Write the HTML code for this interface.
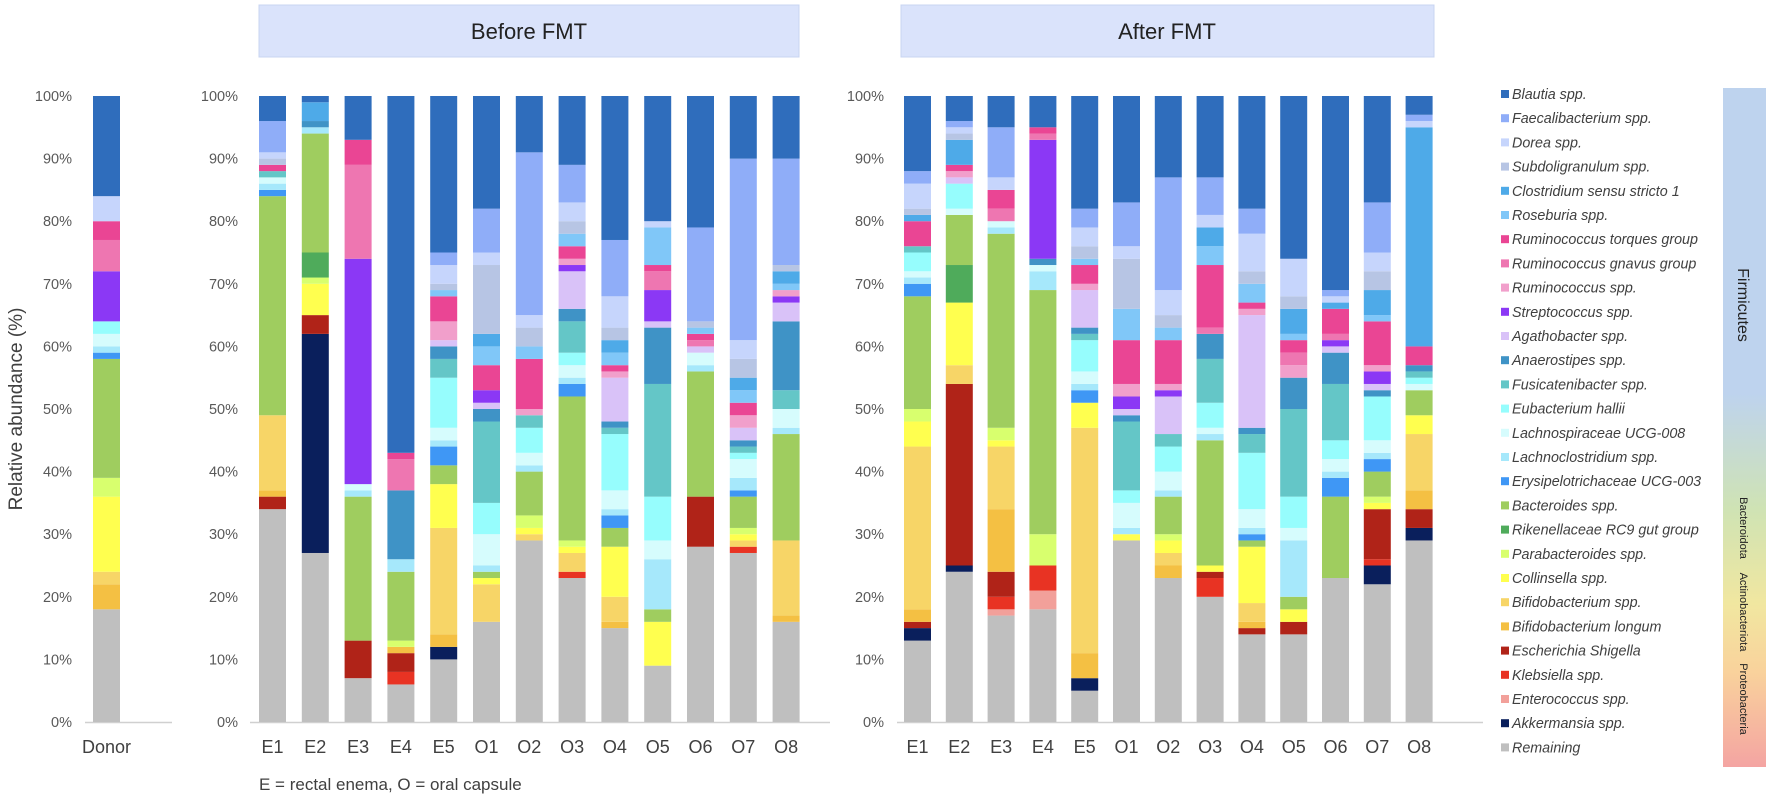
<!DOCTYPE html>
<html><head><meta charset="utf-8"><style>
body{margin:0;background:#fff;}
svg{display:block;font-family:"Liberation Sans",Arial,sans-serif;}
.tick{font-size:14.5px;fill:#595959;}
.xl{font-size:18px;fill:#404040;}
.lg{font-size:14.3px;fill:#404040;font-style:italic;}
</style></head><body>
<svg id="chart" width="1772" height="800" viewBox="0 0 1772 800" xmlns="http://www.w3.org/2000/svg">
<defs>
<linearGradient id="phy" x1="0" y1="0" x2="0" y2="1">
<stop offset="0" stop-color="#bed3ee"/><stop offset="0.45" stop-color="#bed3ee"/>
<stop offset="0.62" stop-color="#cfe3b4"/><stop offset="0.76" stop-color="#f1e7a0"/>
<stop offset="0.86" stop-color="#f9d29c"/><stop offset="1" stop-color="#f4a4a2"/>
</linearGradient>
</defs>
<rect x="259" y="5" width="540" height="52" fill="#dae3fb" stroke="#c8d5f2"/>
<text x="529" y="39" text-anchor="middle" font-size="22" fill="#222">Before FMT</text>
<rect x="901" y="5" width="533" height="52" fill="#dae3fb" stroke="#c8d5f2"/>
<text x="1167" y="39" text-anchor="middle" font-size="22" fill="#222">After FMT</text>
<text transform="translate(22,409) rotate(-90)" text-anchor="middle" font-size="19" fill="#404040">Relative abundance (%)</text>
<text x="259" y="790" font-size="17" fill="#404040">E = rectal enema, O = oral capsule</text>
<g id="plots"></g>
<g id="legend"></g>
<rect x="1723" y="88" width="43" height="679" fill="url(#phy)"/>
<text transform="translate(1738,305) rotate(90)" text-anchor="middle" font-size="16" fill="#222">Firmicutes</text>
<text transform="translate(1740,528) rotate(90)" text-anchor="middle" font-size="11" fill="#222">Bacteroidota</text>
<text transform="translate(1740,612) rotate(90)" text-anchor="middle" font-size="11" fill="#222">Actinobacteriota</text>
<text transform="translate(1740,699) rotate(90)" text-anchor="middle" font-size="11" fill="#222">Proteobacteria</text>
</svg>
<script>
// species in stacking order (bottom -> top)
const speciesNames = ["Remaining","Akkermansia spp.","Enterococcus spp.","Klebsiella spp.","Escherichia Shigella","Bifidobacterium longum","Bifidobacterium spp.","Collinsella spp.","Parabacteroides spp.","Rikenellaceae RC9 gut group","Bacteroides spp.","Erysipelotrichaceae UCG-003","Lachnoclostridium spp.","Lachnospiraceae UCG-008","Eubacterium hallii","Fusicatenibacter spp.","Anaerostipes spp.","Agathobacter spp.","Streptococcus spp.","Ruminococcus spp.","Ruminococcus gnavus group","Ruminococcus torques group","Roseburia spp.","Clostridium sensu stricto 1","Subdoligranulum  spp.","Dorea spp.","Faecalibacterium spp.","Blautia spp."];
const speciesColors = ["#bfbfbf","#0a1f5c","#f2a09a","#e83323","#b02318","#f4c043","#f7d567","#ffff4f","#d8ff6e","#4fab5b","#9fcd5f","#3f97f5","#a6e8fb","#d6fcfd","#96fdfd","#64c6c7","#3f93c6","#d9c2f8","#8b38f5","#f19fcb","#ee76b1","#ea4594","#80c7f8","#4eaae8","#b7c5e4","#c6d5fc","#8fadf8","#2f6dbc"];
const yTicks = ["0%","10%","20%","30%","40%","50%","60%","70%","80%","90%","100%"];
const donorLabels = ["Donor"];
const sampleLabels = ["E1","E2","E3","E4","E5","O1","O2","O3","O4","O5","O6","O7","O8"];
const donorData = [[18,0,0,0,0,4,2,12,3,0,19,1,1,2,2,0,0,0,8,0,5,3,0,0,0,4,0,16]];
const beforeData = [
[34,0,0,0,2,1,12,0,0,0,35,1,1,1,0,1,0,0,0,0,0,1,0,0,1,1,5,4],
[27,35,0,0,3,0,0,5,1,4,19,0,1,0,0,0,1,0,0,0,0,0,0,3,0,0,0,1],
[7,0,0,0,6,0,0,0,0,0,23,0,1,1,0,0,0,0,36,0,15,4,0,0,0,0,0,7],
[6,0,0,2,3,1,0,0,1,0,11,0,2,0,0,0,11,0,0,0,5,1,0,0,0,0,0,57],
[10,2,0,0,0,2,17,7,0,0,3,3,1,2,8,3,2,1,0,3,0,4,1,0,1,3,2,25],
[16,0,0,0,0,0,6,1,0,0,1,0,1,5,5,13,2,1,2,0,0,4,3,2,11,2,7,18],
[29,0,0,0,0,0,1,1,2,0,7,0,1,2,4,2,0,0,0,1,0,8,2,0,3,2,26,9],
[23,0,0,1,0,0,3,1,1,0,23,2,1,2,2,5,2,6,1,1,0,2,2,0,2,3,6,11],
[15,0,0,0,0,1,4,8,0,0,3,2,1,3,9,1,1,7,0,1,0,1,2,2,2,5,9,23],
[9,0,0,0,0,0,0,7,0,0,2,0,8,3,7,18,9,1,5,0,3,1,6,0,0,1,0,20],
[28,0,0,0,8,0,0,0,0,0,20,0,1,2,0,0,0,1,0,0,1,1,1,0,1,0,15,21],
[27,0,0,1,0,0,1,1,1,0,5,1,2,3,1,1,1,2,0,2,0,2,2,2,3,3,29,10],
[16,0,0,0,0,1,12,0,0,0,17,0,1,3,0,3,11,3,1,1,0,0,1,2,1,0,17,10]];
const afterData = [
[13,2,0,0,1,2,26,4,2,0,18,2,1,1,3,1,0,0,0,0,0,4,0,1,1,4,2,12],
[24,1,0,0,29,0,3,10,0,6,8,0,0,1,4,0,0,1,0,1,0,1,0,4,1,1,1,4],
[17,0,1,2,4,10,10,1,2,0,31,0,1,1,0,0,0,0,0,0,2,3,0,0,0,2,8,5],
[18,0,3,4,0,0,0,0,5,0,39,0,3,1,0,0,1,0,19,0,1,1,0,0,0,0,0,5],
[5,2,0,0,0,4,36,4,0,0,0,2,1,2,5,1,1,6,0,1,0,3,1,0,2,3,3,18],
[29,0,0,0,0,0,0,1,0,0,0,0,1,4,2,11,1,1,2,2,0,7,5,0,8,2,7,17],
[23,0,0,0,0,2,2,2,1,0,6,0,1,3,4,2,0,6,1,1,0,7,2,0,2,4,18,13],
[20,0,0,3,1,0,0,1,0,0,20,0,1,1,4,7,4,0,0,0,1,10,3,3,0,2,6,13],
[14,0,0,0,1,1,3,9,0,0,1,1,1,3,9,3,1,18,0,1,0,1,3,0,2,6,4,18],
[14,0,0,0,2,0,0,2,0,0,2,0,9,2,5,14,5,0,0,2,2,2,1,4,2,6,0,26],
[23,0,0,0,0,0,0,0,0,0,13,3,1,2,3,9,5,1,1,0,1,4,0,1,0,1,1,31],
[22,3,0,1,8,0,0,1,1,0,4,2,1,2,7,0,1,1,2,1,0,7,1,4,3,3,8,17],
[29,2,0,0,3,3,9,3,0,0,4,0,0,1,1,1,1,0,0,0,0,3,0,35,0,1,1,3]];

const NS='http://www.w3.org/2000/svg';
const Y0=722, Y100=96;
function yScale(v){return Y0-(Y0-Y100)*v/100;}
function mk(tag,attrs,parent){const e=document.createElementNS(NS,tag);for(const k in attrs)e.setAttribute(k,attrs[k]);parent.appendChild(e);return e;}
const plots=document.getElementById('plots');
function panel(name,data,labels,x0,step,bw,tickRight,axisL,axisR){
  const g=mk('g',{},plots);
  
  
  yTicks.forEach((t,i)=>{
    const tx=mk('text',{x:tickRight,y:yScale(i*10)+5,'text-anchor':'end','class':'tick'},g);
    tx.textContent=t;
    
    
  });
  const ax=mk('line',{x1:axisL,x2:axisR,y1:Y0+0.5,y2:Y0+0.5,stroke:'#d0d0d0','stroke-width':1.5},g);
  
  
  data.forEach((vals,b)=>{
    const x=x0+b*step;
    let cum=0;
    vals.forEach((v,s)=>{
      if(v<=0)return;
      const yt=yScale(cum+v), yb=yScale(cum);
      const r=mk('rect',{x:x,y:yt,width:bw,height:yb-yt,fill:speciesColors[s]},g);
      
      
      cum+=v;
    });
    const lb=mk('text',{x:x+bw/2,y:753,'text-anchor':'middle','class':'xl'},g);
    lb.textContent=labels[b];
    
    
  });
}
panel('donor',donorData,donorLabels,93,40,27,72,85,172);
panel('before',beforeData,sampleLabels,259,42.8,27,238,250,830);
panel('after',afterData,sampleLabels,904,41.8,27,884,897,1483);

const lg=document.getElementById('legend');
for(let i=0;i<speciesNames.length;i++){
  const s=speciesNames.length-1-i;
  const y=94+i*24.2;
  const sq=mk('rect',{x:1501,y:y-4,width:8,height:8,fill:speciesColors[s]},lg);
  
  
  const t=mk('text',{x:1512,y:y+5,'class':'lg'},lg);
  t.textContent=speciesNames[s];
  if(s===0)t.setAttribute('font-style','normal');
  
  
}
</script>
</body></html>
